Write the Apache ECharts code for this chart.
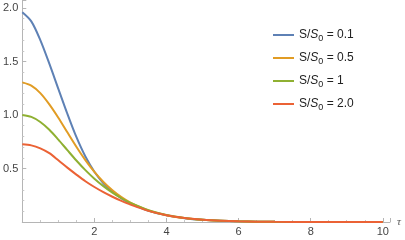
<!DOCTYPE html>
<html><head><meta charset="utf-8">
<script src="https://cdn.jsdelivr.net/npm/echarts@6/dist/echarts.min.js"></script>
<style>html,body{margin:0;padding:0;background:#fff}#c{width:405px;height:240px}</style>
</head><body><div id="c"></div>
<script>
const taus = [0,0.25,0.5,0.75,1,1.25,1.5,1.75,2,2.25,2.5,2.75,3,3.5,4,4.5,5,5.5,6,7,8,10];
const s01 = [1.96,1.875,1.70,1.48,1.245,1.012,0.795,0.612,0.47,0.362,0.282,0.221,0.174,0.104,0.062,0.036,0.02,0.011,0.006,0.0015,0.0003,0];
const s05 = [1.305,1.275,1.205,1.10,0.975,0.838,0.703,0.578,0.468,0.374,0.296,0.232,0.181,0.108,0.064,0.037,0.02,0.011,0.006,0.0015,0.0003,0];
const s1  = [1.0,0.982,0.935,0.862,0.77,0.672,0.575,0.485,0.405,0.335,0.274,0.222,0.178,0.11,0.066,0.038,0.021,0.011,0.006,0.0015,0.0003,0];
const s2  = [0.726,0.716,0.688,0.643,0.577,0.508,0.443,0.381,0.327,0.279,0.236,0.197,0.162,0.104,0.064,0.037,0.021,0.011,0.006,0.0015,0.0003,0];
const names = ['0.1','0.5','1','2.0'];
const colors = ['#5E81B5','#E19C24','#8FB032','#EB6235'];
const xTicks = [2,4,6,8,10];
const yTicks = [0.5,1.0,1.5,2.0];

const allData = [s01,s05,s1,s2];
const chart = echarts.init(document.getElementById('c'));
const fmt = v => '{a|S/}{i|S}{sub|0}{a| = ' + v + '}';
chart.setOption({
  animation:false,
  grid:{left:19,right:15,top:0,bottom:18},
  legend:{
    orient:'vertical', left:268, top:24, itemWidth:21, itemHeight:2, itemGap:9,
    icon:'rect',
    data:names.map(n=>({name:n})),
    formatter: n => fmt(n),
    textStyle:{
      fontFamily:'Liberation Sans', color:'#222', fontSize:12,
      rich:{
        a:{fontFamily:'Liberation Sans',fontSize:12,color:'#222'},
        i:{fontFamily:'Liberation Sans',fontSize:12,color:'#222',fontStyle:'italic'},
        sub:{fontFamily:'Liberation Sans',fontSize:9,color:'#222',padding:[7,0,0,0]}
      }
    }
  },
  xAxis:{
    type:'value', min:0, max:10.2, interval:2,
    name:'τ', nameLocation:'end', nameGap:7,
    nameTextStyle:{fontFamily:'Liberation Serif',fontStyle:'italic',fontSize:11,color:'#555',verticalAlign:'middle'},
    axisLine:{lineStyle:{color:'#b5b5b5',width:1}},
    axisTick:{inside:true,length:4,lineStyle:{color:'#b5b5b5'}},
    minorTick:{show:true,splitNumber:4,length:2,lineStyle:{color:'#c8c8c8'}},
    splitLine:{show:false},
    axisLabel:{margin:4,fontFamily:'Liberation Sans',fontSize:11,color:'#444',showMaxLabel:false,
      formatter:v=> xTicks.includes(Math.round(v*100)/100) ? String(v) : ''}
  },
  yAxis:{
    type:'value', min:0, max:2.075, interval:0.5,
    axisLine:{show:true,lineStyle:{color:'#b5b5b5',width:1}},
    axisTick:{show:true,inside:true,length:4,lineStyle:{color:'#b5b5b5'}},
    minorTick:{show:true,splitNumber:5,length:2,lineStyle:{color:'#c8c8c8'}},
    splitLine:{show:false},
    axisLabel:{margin:4,fontFamily:'Liberation Sans',fontSize:11,color:'#444',showMaxLabel:false,
      formatter:v=> yTicks.includes(Math.round(v*100)/100) ? v.toFixed(1) : ''}
  },
  series: allData.map((arr,k)=>({
    name:names[k], type:'line', smooth:0.3, showSymbol:false, symbol:'none',
    lineStyle:{width:2,color:colors[k]}, itemStyle:{color:colors[k]},
    data: taus.map((t,i)=>[t,arr[i]])
  }))
});
</script></body></html>
